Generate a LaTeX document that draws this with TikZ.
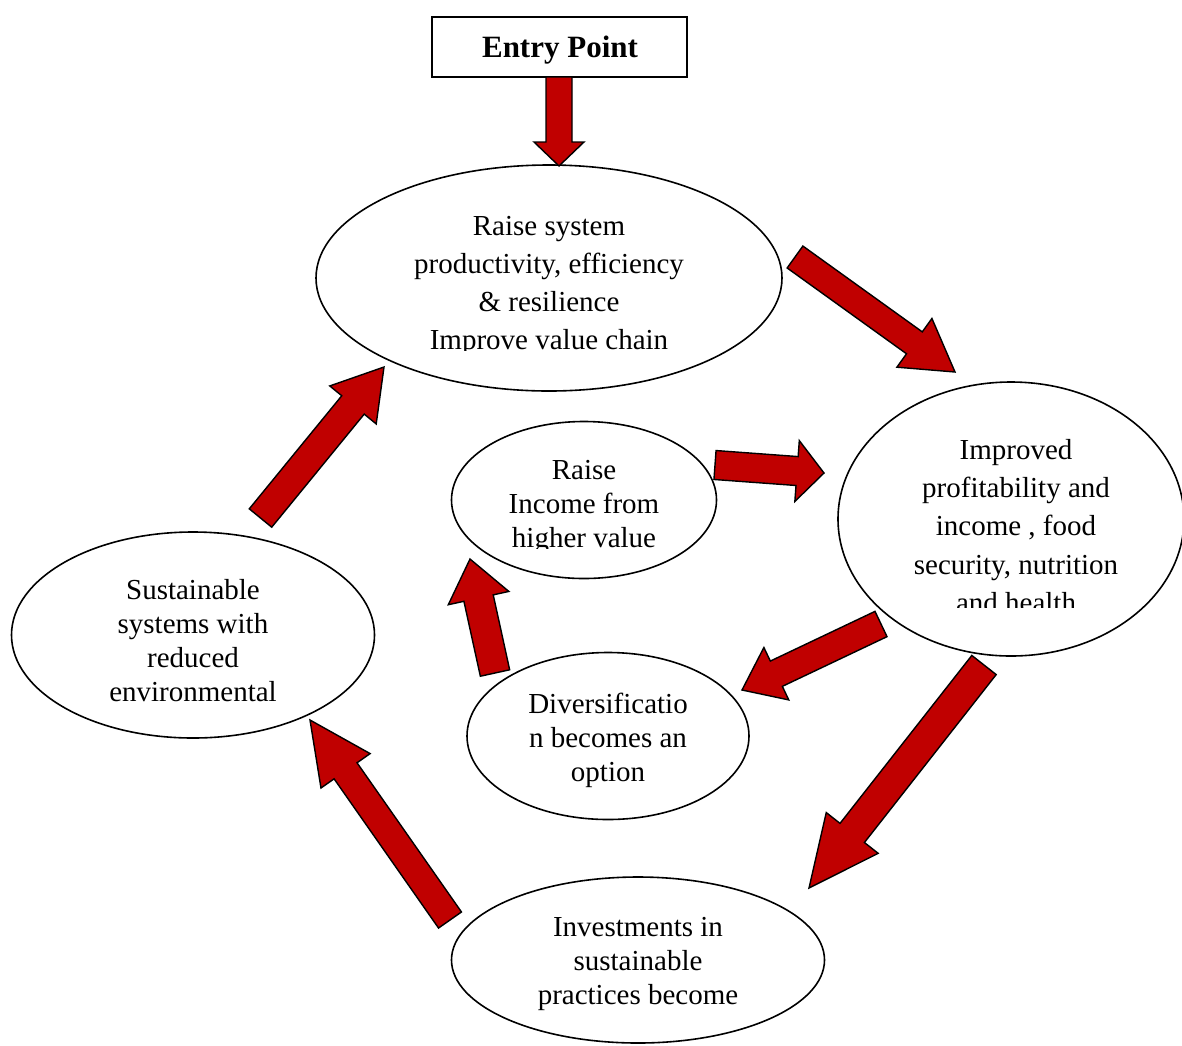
\documentclass[tikz,border=0pt]{standalone}
\usepackage{fontspec}
\setmainfont{Liberation Serif}
\usetikzlibrary{shapes.geometric,calc}
\definecolor{arrowred}{HTML}{C00000}

% block arrow: #1 tail centre, #2 tip, #3 half shaft width, #4 half head width, #5 head length
\newcommand\blockarrow[5]{%
  \coordinate (hb) at ($(#2)!#5!(#1)$);
  \draw[bigarrow] ($(#1)!#3!90:(#2)$) -- ($(hb)!#3!-90:(#1)$) -- ($(hb)!#4!-90:(#1)$)
    -- (#2) -- ($(hb)!#4!90:(#1)$) -- ($(hb)!#3!90:(#1)$) -- ($(#1)!#3!-90:(#2)$) -- cycle;}

\tikzset{
  bubble/.style={ellipse, draw=black, fill=white, line width=1.6pt, inner sep=0pt},
  bubbletext/.style={align=center, inner sep=0pt, font=\fontsize{29}{34}\selectfont},
  widetext/.style={align=center, inner sep=0pt, font=\fontsize{29}{38.3}\selectfont},
  bigarrow/.style={fill=arrowred, draw=black, line width=1.4pt, line join=miter},
  entrybox/.style={draw=black, line width=1.5pt, minimum width=255pt, minimum height=60pt,
    inner sep=0pt, font=\fontsize{31}{36}\selectfont\bfseries}
}

\begin{document}
\begin{tikzpicture}[x=1pt, y=-1pt]
\useasboundingbox (0,0) rectangle (1182,1045);
\fill[white] (0,0) rectangle (1182,1045);

% entry box with its label
\node[entrybox] (entry) at (559.5,47) {};
\node[inner sep=0pt, font=\fontsize{31}{36}\selectfont\bfseries] (entrytext) at (560,50) {Entry Point};

% ellipses
\node[bubble, minimum width=466pt, minimum height=226pt] (sys) at (549,278) {};
\node[bubble, minimum width=346pt, minimum height=274pt] (profit) at (1011,519) {};
\node[bubble, minimum width=265pt, minimum height=157pt] (income) at (584,500) {};
\node[bubble, minimum width=363pt, minimum height=206pt] (sustain) at (193,635) {};
\node[bubble, minimum width=282pt, minimum height=167pt] (divers) at (608,736) {};
\node[bubble, minimum width=373pt, minimum height=166pt] (invest) at (638,960) {};

% ellipse texts, each clipped to its text frame
\begin{scope}
  \clip (330,190) rectangle (770,350);
  \node[widetext] (systext) at (549,286) {Raise system\\productivity, efficiency\\\& resilience\\Improve value chain};
\end{scope}
\begin{scope}
  \clip (860,410) rectangle (1170,607);
  \node[widetext] (profittext) at (1016,526) {Improved\\profitability and\\income , food\\security, nutrition\\and health};
\end{scope}
\begin{scope}
  \clip (470,440) rectangle (700,548);
  \node[bubbletext] (incometext) at (584,507) {Raise\\Income from\\higher value};
\end{scope}
\node[bubbletext] (sustaintext) at (193,641) {Sustainable\\systems with\\reduced\\environmental};
\node[bubbletext] (diverstext) at (608,740) {Diversificatio\\n becomes an\\option};
\node[bubbletext] (investtext) at (638,964) {Investments in\\sustainable\\practices become};

% arrow end points
\coordinate (e1) at (559,77);    \coordinate (e2) at (559,166);
\coordinate (s1) at (795,257);   \coordinate (s2) at (955,372);
\coordinate (i1) at (715,465);   \coordinate (i2) at (824,473);
\coordinate (p1) at (881,624);   \coordinate (p2) at (742,690);
\coordinate (q1) at (984,665);   \coordinate (q2) at (809,888);
\coordinate (v1) at (450,920);   \coordinate (v2) at (310,720);
\coordinate (u1) at (260.5,518); \coordinate (u2) at (384,367);
\coordinate (d1) at (495,673);   \coordinate (d2) at (470,559);

% arrows
\blockarrow{e1}{e2}{13pt}{25pt}{24pt}
\blockarrow{s1}{s2}{13.5pt}{30pt}{50pt}
\blockarrow{i1}{i2}{14.5pt}{30.5pt}{27pt}
\blockarrow{p1}{p2}{14pt}{29pt}{38pt}
\blockarrow{q1}{q2}{15.5pt}{33pt}{70pt}
\blockarrow{v1}{v2}{14pt}{30pt}{62pt}
\blockarrow{u1}{u2}{14.5pt}{30pt}{49pt}
\blockarrow{d1}{d2}{15pt}{31pt}{40pt}
\end{tikzpicture}
\end{document}
